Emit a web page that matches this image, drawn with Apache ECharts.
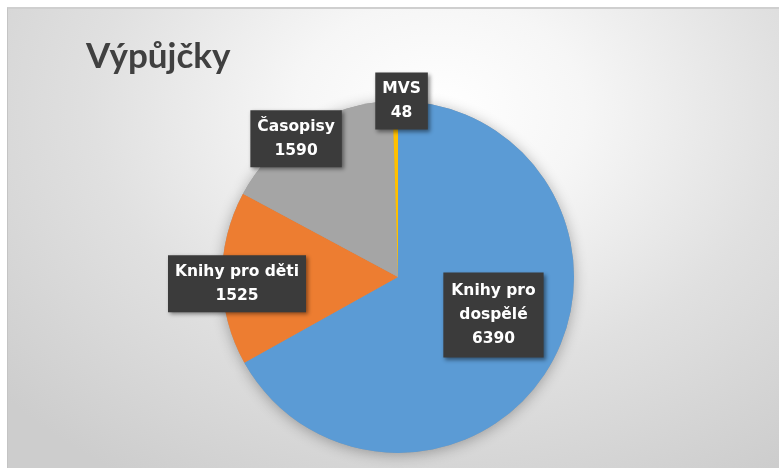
<!DOCTYPE html>
<html>
<head>
<meta charset="utf-8">
<script src="https://cdn.jsdelivr.net/npm/echarts@6/dist/echarts.min.js"></script>
<style>
html,body{margin:0;padding:0;background:#ffffff;width:779px;height:468px;overflow:hidden;}
#wrap{position:absolute;left:7px;top:7px;width:772px;height:461px;box-sizing:border-box;
  border-left:1px solid #c4c4c4;border-top:2px solid #cfcfcf;
  background:radial-gradient(ellipse 75% 95% at 56% 22%, #ffffff 0%, #f6f6f6 25%, #e0e0e0 60%, #cdcdcd 100%);}
#chart{position:absolute;left:0;top:0;width:771px;height:459px;}
</style>
</head>
<body>
<div id="wrap"><div id="chart"></div></div>
<script>
const title = 'Výpůjčky';
const categories = ['Knihy pro dospělé', 'Knihy pro děti', 'Časopisy', 'MVS'];
const values = [6390, 1525, 1590, 48];

const colors = ['#5B9BD5', '#ED7D31', '#A5A5A5', '#FFC000'];
const labelOffsets = [[17, -8], [-70, 6], [-54, -61], [5, -85]];
const wrapName = [true, false, false, false];

const chart = echarts.init(document.getElementById('chart'), null, {renderer: 'canvas'});

const data = categories.map((name, i) => ({
  name: name,
  value: values[i],
  itemStyle: {color: colors[i]},
  label: {offset: labelOffsets[i], padding: wrapName[i] ? [7, 8, 6, 8] : [5, 7, 4, 7]}
}));

chart.setOption({
  backgroundColor: 'transparent',
  animation: false,
  title: {
    text: title,
    left: 73,
    top: 25,
    textStyle: {fontFamily: 'Lato', fontWeight: 'bold', fontSize: 35, color: '#404040'}
  },
  series: [
    {
      type: 'pie',
      silent: true,
      center: [390, 268],
      radius: 176,
      startAngle: 90,
      clockwise: true,
      z: 1,
      label: {show: false},
      labelLine: {show: false},
      itemStyle: {color: '#9a9a9a', shadowBlur: 14, shadowColor: 'rgba(0,0,0,0.3)', shadowOffsetY: 2},
      data: values.map(v => ({value: v}))
    },
    {
      type: 'pie',
      center: [390, 268],
      radius: 176,
      startAngle: 90,
      clockwise: true,
      z: 2,
      avoidLabelOverlap: false,
      labelLine: {show: false},
      label: {
        show: true,
        position: 'inside',
        formatter: p => {
          const n = wrapName[p.dataIndex] ? p.name.replace(/ (\S+)$/, '\n$1') : p.name;
          return n + '\n' + p.value;
        },
        fontFamily: 'DejaVu Sans',
        fontWeight: 'bold',
        fontSize: 15.5,
        lineHeight: 24,
        color: '#ffffff',
        align: 'center',
        backgroundColor: '#3b3b3b',
        shadowColor: 'rgba(0,0,0,0.45)',
        shadowBlur: 4,
        shadowOffsetX: 2,
        shadowOffsetY: 2
      },
      emphasis: {disabled: true},
      data: data
    }
  ]
});
</script>
</body>
</html>
